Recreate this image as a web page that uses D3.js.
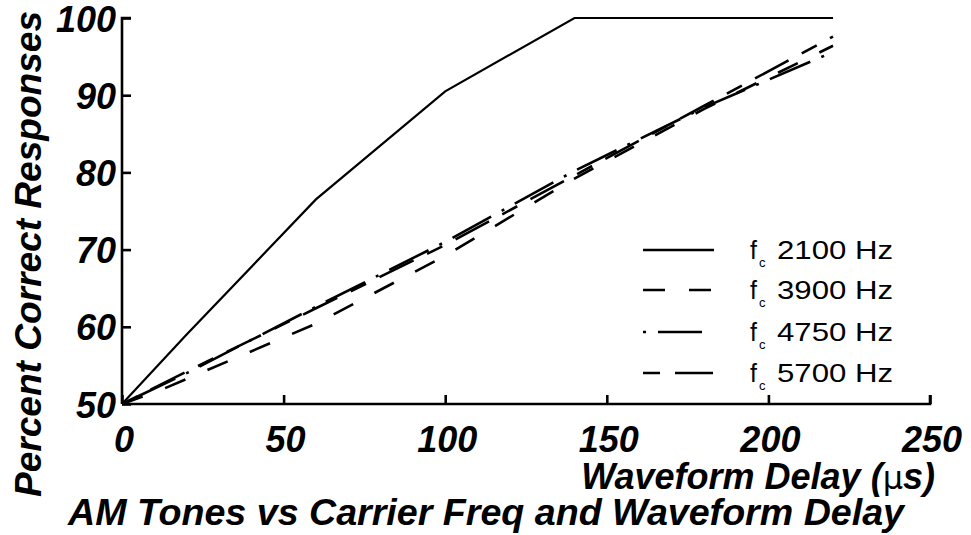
<!DOCTYPE html>
<html><head><meta charset="utf-8">
<script src="https://cdn.jsdelivr.net/npm/d3@7"></script>
<style>body{margin:0;background:#fff}</style>
</head><body>
<svg id="c" width="971" height="535"></svg>
<script>
const xTicks = [0, 50, 100, 150, 200, 250];
const yTicks = [50, 60, 70, 80, 90, 100];
const seriesNames = ["2100 Hz", "3900 Hz", "4750 Hz", "5700 Hz"];
const delays2100 = [0, 20, 60, 100, 140, 220];
const values2100 = [50, 59, 76.5, 90.5, 100, 100];
const delays3900 = [0, 13, 60, 100, 140, 180, 220];
const values3900 = [50, 52, 60.4, 69.2, 79.2, 88.2, 96.4];
const delays4750 = [0, 20, 60, 100, 140, 180, 220];
const values4750 = [50, 54, 62.6, 71, 80.2, 88.4, 95.6];
const delays5700 = [0, 20, 60, 100, 140, 180, 220];
const values5700 = [50, 54.2, 62.4, 70.6, 79.6, 88.6, 97.6];
const dashes = [null, "22,24", "3,12,44,12", "17,15,38,15"];

const svg = d3.select("#c");
const x = d3.scaleLinear().domain([0, 250]).range([122, 930]);
const y = d3.scaleLinear().domain([50, 100]).range([404, 18]);
const boldIt = "font-family:'Liberation Sans',Arial,sans-serif;font-weight:bold;font-style:italic;";

// axes
const xAx = svg.append("g").attr("transform", `translate(0,${y(50)})`)
  .call(d3.axisTop(x).tickValues(xTicks).tickSize(9).tickFormat(""));
const yAx = svg.append("g").attr("transform", `translate(${x(0)},0)`)
  .call(d3.axisRight(y).tickValues(yTicks).tickSize(9).tickFormat(""));
[xAx, yAx].forEach(g => {
  g.selectAll("path").attr("stroke", "#000").attr("stroke-width", 2.6);
  g.selectAll("line").attr("stroke", "#000").attr("stroke-width", 2.6);
});
xAx.select(".domain").attr("d", `M${x(0)},0H${x(250)}V-9`);
yAx.select(".domain").attr("d", `M0,${y(50)}V${y(100)}H9`);

// tick labels
svg.append("g").selectAll("text").data(yTicks).join("text")
  .attr("x", 116).attr("y", d => y(d)).attr("dy", "0.38em")
  .attr("text-anchor", "end").attr("style", boldIt + "font-size:36px")
  .text(d => d);
svg.append("g").selectAll("text").data(xTicks).join("text")
  .attr("x", d => x(d) + 2).attr("y", 452)
  .attr("text-anchor", "middle").attr("style", boldIt + "font-size:36px")
  .text(d => d);

// lines
const series = [
  {d: delays2100, v: values2100},
  {d: delays3900, v: values3900},
  {d: delays4750, v: values4750},
  {d: delays5700, v: values5700}
];
const line = d3.line().x(p => x(p[0])).y(p => y(p[1]));
series.forEach((s, i) => {
  svg.append("path")
    .attr("d", line(s.d.map((dd, k) => [dd, s.v[k]])))
    .attr("fill", "none").attr("stroke", "#000")
    .attr("stroke-width", i === 0 ? 2.2 : 2.6)
    .attr("stroke-dasharray", dashes[i]);
});

// legend
const legY = [250, 290, 332, 373];
seriesNames.forEach((n, i) => {
  svg.append("line").attr("x1", 643).attr("x2", 714)
    .attr("y1", legY[i]).attr("y2", legY[i])
    .attr("stroke", "#000").attr("stroke-width", 2.6)
    .attr("stroke-dasharray", dashes[i]);
  const t = svg.append("text").attr("y", legY[i] + 9)
    .attr("style", "font-family:'Liberation Sans',Arial,sans-serif;font-size:25px");
  t.append("tspan").attr("x", 750).text("f");
  t.append("tspan").attr("x", 759).attr("dy", 8).attr("style", "font-size:13px").text("c");
  svg.append("text").attr("x", 777).attr("y", legY[i] + 9)
    .attr("textLength", 116).attr("lengthAdjust", "spacingAndGlyphs")
    .attr("style", "font-family:'Liberation Sans',Arial,sans-serif;font-size:25px")
    .text(n);
});

// axis titles
const xl = svg.append("text").attr("x", 935).attr("y", 489).attr("text-anchor", "end")
  .attr("style", boldIt + "font-size:36px");
xl.append("tspan").text("Waveform Delay (");
xl.append("tspan").attr("style", "font-weight:normal;font-style:normal;font-family:'DejaVu Sans',sans-serif;font-size:32px").text("μ");
xl.append("tspan").text("s)");

svg.append("text").attr("transform", "translate(41,497) rotate(-90)")
  .attr("textLength", 486).attr("lengthAdjust", "spacingAndGlyphs")
  .attr("style", boldIt + "font-size:36px")
  .text("Percent Correct Responses");

svg.append("text").attr("x", 68).attr("y", 525)
  .attr("textLength", 836).attr("lengthAdjust", "spacingAndGlyphs")
  .attr("style", boldIt + "font-size:36px")
  .text("AM Tones vs Carrier Freq and Waveform Delay");
</script>
</body></html>
